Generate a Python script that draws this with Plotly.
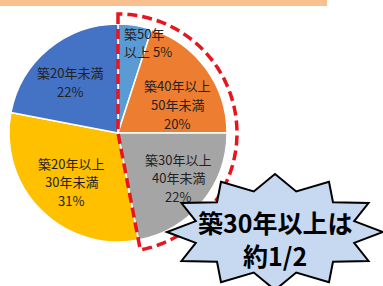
import numpy as np
import plotly.graph_objects as go

# ---- data ----
categories = ["築50年以上", "築40年以上50年未満", "築30年以上40年未満", "築20年以上30年未満", "築20年未満"]
shares = [5, 20, 22, 31, 22]
slice_colors = ["#5B9BD5", "#ED7D31", "#A5A5A5", "#FFC000", "#4472C4"]
label_lines = [
    ["築50年", "以上 5%"],
    ["築40年以上", "50年未満", "20%"],
    ["築30年以上", "40年未満", "22%"],
    ["築20年以上", "30年未満", "31%"],
    ["築20年未満", "22%"],
]
callout_lines = ["築30年以上は", "約1/2"]
highlight_n = 3  # first three slices = 築30年以上

W, H = 383, 286
FONT = "Noto Sans CJK JP"

# pie geometry (pixels)
cx, cy, R = 118, 133, 109


def px(x):
    return x / W


def py(y):
    return 1 - y / H


fig = go.Figure()
fig.add_trace(go.Pie(
    labels=categories,
    values=shares,
    sort=False,
    direction="clockwise",
    rotation=0,
    marker=dict(colors=slice_colors, line=dict(color="white", width=1.5)),
    textinfo="none",
    hoverinfo="label+percent",
    domain=dict(x=[px(cx - R), px(cx + R)], y=[py(cy + R), py(cy - R)]),
    showlegend=False,
))

shapes = []
# top bar
shapes.append(dict(type="rect", xref="paper", yref="paper", x0=0, x1=px(327), y0=py(6), y1=1.02,
                   fillcolor="#FAC090", line=dict(width=0), layer="above"))

# dashed highlight outline around first slices
frac = sum(shares[:highlight_n]) / sum(shares)
Ro = 119
angs = np.linspace(0, frac * 2 * np.pi, 60)
pts = [(cx, cy - Ro), (cx, cy)]
pts.append((cx + Ro * np.sin(angs[-1]), cy - Ro * np.cos(angs[-1])))
for a in angs[::-1]:
    pts.append((cx + Ro * np.sin(a), cy - Ro * np.cos(a)))
path = "M " + " L ".join(f"{px(x):.5f},{py(y):.5f}" for x, y in pts) + " Z"
shapes.append(dict(type="path", xref="paper", yref="paper", path=path,
                   line=dict(color="#E8141E", width=3.5, dash="10px,5px"), layer="above"))

# starburst callout (12 points)
sx, sy, rx, ry = 275, 232, 108, 58
rxi, ryi = 82, 42
n = 12
sp = []
for i in range(2 * n):
    a = np.pi + i * np.pi / n
    if i % 2 == 0:
        rrx, rry = rx, ry
    else:
        rrx, rry = rxi, ryi
    sp.append((sx + rrx * np.cos(a), sy - rry * np.sin(a)))
spath = "M " + " L ".join(f"{px(x):.5f},{py(y):.5f}" for x, y in sp) + " Z"
shapes.append(dict(type="path", xref="paper", yref="paper", path=spath,
                   fillcolor="#C6D9F1", line=dict(color="black", width=2), layer="above"))

annotations = []
# (x, first-line y, anchor)
label_pos = [(123, 33, "left"), (177, 86, "center"), (178, 159, "center"), (71, 163, "center"), (70, 73, "center")]
LINE = 18.6
for (x, y0, al), lines in zip(label_pos, label_lines):
    for k, t in enumerate(lines):
        annotations.append(dict(x=px(x), y=py(y0 + k * LINE), xref="paper", yref="paper", text=t,
                                showarrow=False, xanchor=al, yanchor="middle", borderpad=0,
                                font=dict(family=FONT, size=13, color="#222222")))
for k, t in enumerate(callout_lines):
    annotations.append(dict(x=px(275), y=py(222 + k * 33), xref="paper", yref="paper", text="<b>" + t + "</b>",
                            showarrow=False, xanchor="center", yanchor="middle", borderpad=0,
                            font=dict(family=FONT, size=25, color="black")))

fig.update_layout(
    width=W, height=H,
    margin=dict(l=0, r=0, t=0, b=0),
    paper_bgcolor="white",
    shapes=shapes,
    annotations=annotations,
    showlegend=False,
)
fig.write_html("out.html", config={"displayModeBar": False},
               post_script="document.body.style.margin='0';document.body.style.overflow='hidden';")
